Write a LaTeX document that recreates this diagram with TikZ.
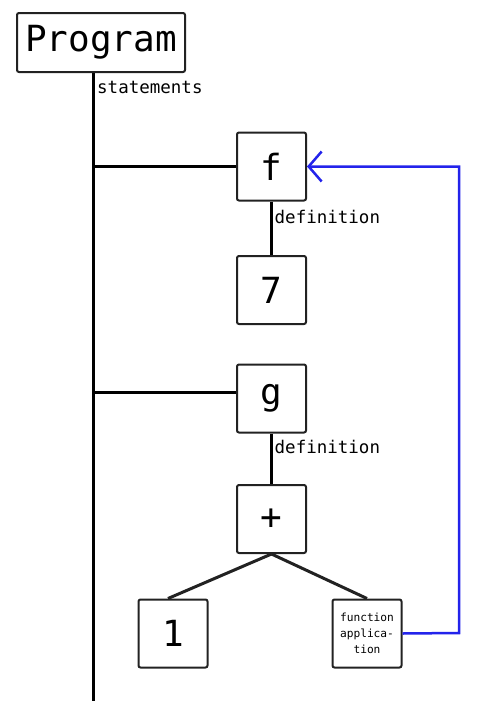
\documentclass[tikz,border=0pt]{standalone}
\usepackage{fontspec}
\setmonofont{DejaVu Sans Mono}
\usetikzlibrary{arrows.meta}
\definecolor{linkblue}{RGB}{35,35,235}
\definecolor{boxline}{RGB}{34,34,34}
\tikzset{
  treebox/.style={draw=boxline, line width=2pt, rounded corners=2pt, fill=white,
    inner sep=0pt, minimum width=69pt, minimum height=68pt,
    font=\ttfamily\fontsize{36}{40}\selectfont},
  edgelabel/.style={inner sep=0pt, font=\ttfamily\fontsize{17.5}{20}\selectfont},
  trunk/.style={line width=3pt, black},
  branch/.style={line width=3pt, boxline},
  link/.style={line width=2.5pt, linkblue},
}
\begin{document}
\begin{tikzpicture}[x=1pt,y=-1pt]
\useasboundingbox (0,0) rectangle (500,702);
\coordinate (tt) at (93,72);
\coordinate (tb) at (93,701);
\coordinate (fj) at (93,166.5);
\coordinate (gj) at (93,392);
\coordinate (rt) at (459,166.5);
\coordinate (rb) at (459,633);
\draw[trunk] (tt) -- (tb);
\node[treebox, minimum width=168pt, minimum height=59pt] (prog) at (101,42.5) {Program};
\node[treebox] (f) at (271.5,166.5) {f};
\node[treebox] (seven) at (271.5,290) {7};
\node[treebox] (g) at (271.5,398.5) {g};
\node[treebox] (plus) at (271.5,519) {+};
\node[treebox] (one) at (173,633.5) {1};
\node[treebox, align=center, font=\ttfamily\fontsize{11.2}{16}\selectfont] (app) at (367,633.5) {function\\applica-\\tion};
\draw[trunk] (fj) -- (f.west);
\draw[trunk] (gj) -- (gj -| g.west);
\draw[trunk] (f.south) -- (seven.north);
\draw[trunk] (g.south) -- (plus.north);
\draw[branch] (plus.south) -- ([xshift=-5pt]one.north);
\draw[branch] (plus.south) -- (app.north);
\draw[link, -{Straight Barb[length=13pt,width=30pt]}] (app.east) -- (rb) -- (rt) -- (f.east);
\node[edgelabel, anchor=base west] (st) at (97,93) {statements};
\node[edgelabel, anchor=base west] (d1) at (274.5,223) {definition};
\node[edgelabel, anchor=base west] (d2) at (274.5,453) {definition};
\end{tikzpicture}
\end{document}
